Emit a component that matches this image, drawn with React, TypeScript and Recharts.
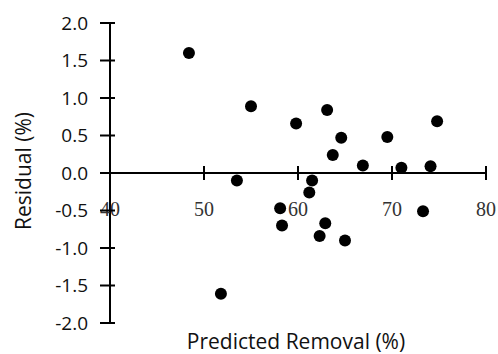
import React from 'react';
import { ScatterChart, Scatter, XAxis, YAxis, ReferenceLine, ReferenceDot } from 'recharts';

const predicted = [48.4, 55.0, 59.8, 63.1, 64.6, 63.7, 66.9, 69.5, 71.0, 74.1, 74.8, 53.5, 51.8, 61.5, 61.2, 58.1, 58.3, 62.9, 62.3, 65.0, 73.3];
const residual = [1.6, 0.89, 0.66, 0.84, 0.47, 0.24, 0.1, 0.48, 0.07, 0.09, 0.69, -0.1, -1.61, -0.1, -0.26, -0.47, -0.7, -0.67, -0.84, -0.9, -0.51];
const xTicks = [40, 50, 60, 70, 80];
const yTicks = [-2, -1.5, -1, -0.5, 0, 0.5, 1, 1.5, 2];
const xTitle = 'Predicted Removal (%)';
const yTitle = 'Residual (%)';

const data = predicted.map((x, i) => ({ x, y: residual[i] }));

const sans = '"Open Sans", sans-serif';

const YTick = (p: any) => (
  <g>
    <line x1={p.x - 10} x2={p.x + 5} y1={p.y} y2={p.y} stroke="#000" strokeWidth={2} />
    <text x={p.x - 22} y={p.y} dy="0.36em" textAnchor="end" fontFamily={sans} fontSize={19} fill="#111">
      {Number(p.payload.value).toFixed(1)}
    </text>
  </g>
);

export default function App() {
  return (
    <div style={{ position: 'absolute', left: 0, top: 0, background: '#fff' }}>
      <ScatterChart width={498} height={354} margin={{ top: 23, right: 12, bottom: 0, left: 0 }}>
        <XAxis
          type="number"
          dataKey="x"
          domain={[40, 80]}
          ticks={xTicks}
          height={31}
          axisLine={false}
          tickLine={false}
          tick={false}
          label={{
            content: (props: any) => {
              const vb = props.viewBox;
              return (
                <text x={vb.x + vb.width / 2 - 2} y={vb.y + 26} textAnchor="middle" fontFamily={sans} fontSize={21} fill="#111">
                  {xTitle}
                </text>
              );
            },
          }}
        />
        <YAxis
          type="number"
          dataKey="y"
          domain={[-2, 2]}
          ticks={yTicks}
          width={110}
          axisLine={{ stroke: '#000', strokeWidth: 2 }}
          tickLine={false}
          tickSize={0}
          tickMargin={0}
          tick={<YTick />}
          interval={0}
          label={{
            content: (props: any) => {
              const vb = props.viewBox;
              const cx = vb.x + 23;
              const cy = vb.y + vb.height / 2 - 2;
              return (
                <text x={cx} y={cy} transform={`rotate(-90 ${cx} ${cy})`} dy="0.36em" textAnchor="middle" fontFamily={sans} fontSize={21} fill="#111">
                  {yTitle}
                </text>
              );
            },
          }}
        />
        <ReferenceLine y={0} stroke="#000" strokeWidth={2} />
        {xTicks.map((t) => (
          <ReferenceDot
            key={t}
            x={t}
            y={0}
            r={0}
            ifOverflow="visible"
            shape={(p: any) => (
              <g>
                <line x1={p.cx} x2={p.cx} y1={p.cy - 7} y2={p.cy + 7} stroke="#000" strokeWidth={2} />
                <text x={p.cx} y={p.cy + 43} textAnchor="middle" fontFamily='"Liberation Serif", serif' fontSize={20} fill="#333">
                  {t}
                </text>
              </g>
            )}
          />
        ))}
        <Scatter
          data={data}
          isAnimationActive={false}
          shape={(p: any) => <circle cx={p.cx} cy={p.cy} r={6} fill="#000" />}
        />
      </ScatterChart>
    </div>
  );
}
